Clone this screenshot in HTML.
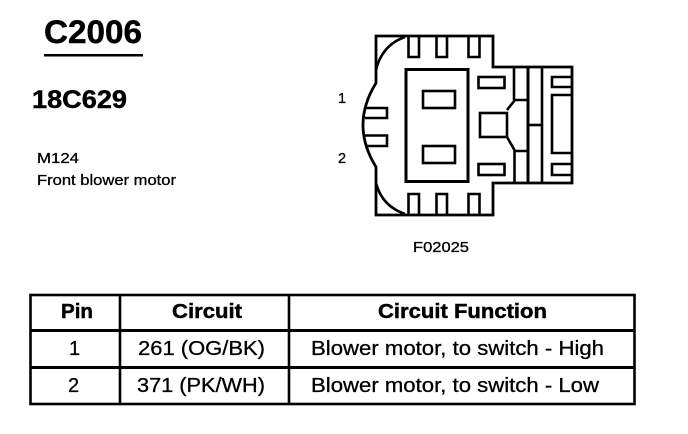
<!DOCTYPE html>
<html>
<head>
<meta charset="utf-8">
<style>
html,body{margin:0;padding:0;background:#fff}
svg{display:block}
text{font-family:"Liberation Sans",Arial,sans-serif;fill:#000;stroke:#000;stroke-width:.3}
.b{font-weight:bold;stroke-width:.45}
</style>
</head>
<body>
<svg width="688" height="434" viewBox="0 0 688 434" xmlns="http://www.w3.org/2000/svg">
<rect width="688" height="434" fill="#fff"/>

<text class="b" x="44" y="43" font-size="32" textLength="98" lengthAdjust="spacingAndGlyphs">C2006</text>
<rect x="44" y="54" width="99" height="2.5" fill="#000"/>
<text class="b" x="32" y="108" font-size="25" textLength="95" lengthAdjust="spacingAndGlyphs">18C629</text>
<text x="37" y="163" font-size="14.5" textLength="42" lengthAdjust="spacingAndGlyphs">M124</text>
<text x="37" y="185" font-size="14.5" textLength="139" lengthAdjust="spacingAndGlyphs">Front blower motor</text>

<text x="338" y="103" font-size="14.5">1</text>
<text x="338" y="163" font-size="14.5">2</text>
<text x="413" y="252" font-size="14.5" textLength="56" lengthAdjust="spacingAndGlyphs">F02025</text>

<g fill="none" stroke="#000" stroke-width="2.6">
  <!-- outer body -->
  <path d="M376 83 V36 H493 V67 H572 V183 H493 V215 H376 V167 Q350 125 376 83 Z" stroke-width="2.8"/>
  <path d="M405 37 Q382 45 376 70"/>
  <path d="M376 183 Q382 206 405 214"/>
  <!-- top pins -->
  <path d="M408.500 36 V57 H419 V36"/>
  <path d="M436.500 36 V57 H447 V36"/>
  <path d="M468.500 36 V57 H479.500 V36"/>
  <!-- bottom pins -->
  <path d="M408.500 215 V194 H419 V215"/>
  <path d="M436.500 215 V194 H447 V215"/>
  <path d="M468.500 215 V194 H479.500 V215"/>
  <!-- left pins -->
  <path d="M365 108 H387 V118 H365"/>
  <path d="M365 135.500 H387 V146 H365"/>
  <!-- big rect -->
  <rect x="406" y="69.500" width="62" height="112" stroke-width="3"/>
  <rect x="423" y="91" width="32" height="17"/>
  <rect x="423" y="146" width="32" height="17"/>
  <!-- small rects -->
  <rect x="478.500" y="77" width="26" height="11"/>
  <rect x="478.500" y="164" width="26" height="11"/>
  <rect x="480" y="113" width="27" height="24"/>
  <!-- middle section -->
  <path d="M507 110 L515 100 H527"/>
  <path d="M507 137 L515 151 H528"/>
  <path d="M514 67 V100"/>
  <path d="M514.500 151 V183"/>
  <path d="M528 67 V183" stroke-width="3"/>
  <path d="M542 67 V183"/>
  <path d="M529 125 H542"/>
  <!-- right section -->
  <path d="M572 77 H552 V87 H572"/>
  <path d="M572 95 H552 V153 H572"/>
  <path d="M572 164 H552 V175 H572"/>
</g>

<g fill="none" stroke="#000">
  <rect x="30.500" y="295" width="604" height="109" stroke-width="2.600"/>
  <path d="M30 330.500 H635" stroke-width="3"/>
  <path d="M30 367.500 H635" stroke-width="3"/>
  <path d="M120 295 V404" stroke-width="2.600"/>
  <path d="M289 295 V404" stroke-width="2.600"/>
</g>

<text class="b" x="61" y="318" font-size="20" textLength="32" lengthAdjust="spacingAndGlyphs">Pin</text>
<text class="b" x="172" y="318" font-size="20" textLength="70" lengthAdjust="spacingAndGlyphs">Circuit</text>
<text class="b" x="378" y="318" font-size="20" textLength="169" lengthAdjust="spacingAndGlyphs">Circuit Function</text>

<text x="69" y="355" font-size="20">1</text>
<text x="138" y="355" font-size="20" textLength="127" lengthAdjust="spacingAndGlyphs">261 (OG/BK)</text>
<text x="311" y="355" font-size="20" textLength="293" lengthAdjust="spacingAndGlyphs">Blower motor, to switch - High</text>

<text x="68" y="392" font-size="20">2</text>
<text x="137" y="392" font-size="20" textLength="128" lengthAdjust="spacingAndGlyphs">371 (PK/WH)</text>
<text x="311" y="392" font-size="20" textLength="288" lengthAdjust="spacingAndGlyphs">Blower motor, to switch - Low</text>
</svg>
</body>
</html>
